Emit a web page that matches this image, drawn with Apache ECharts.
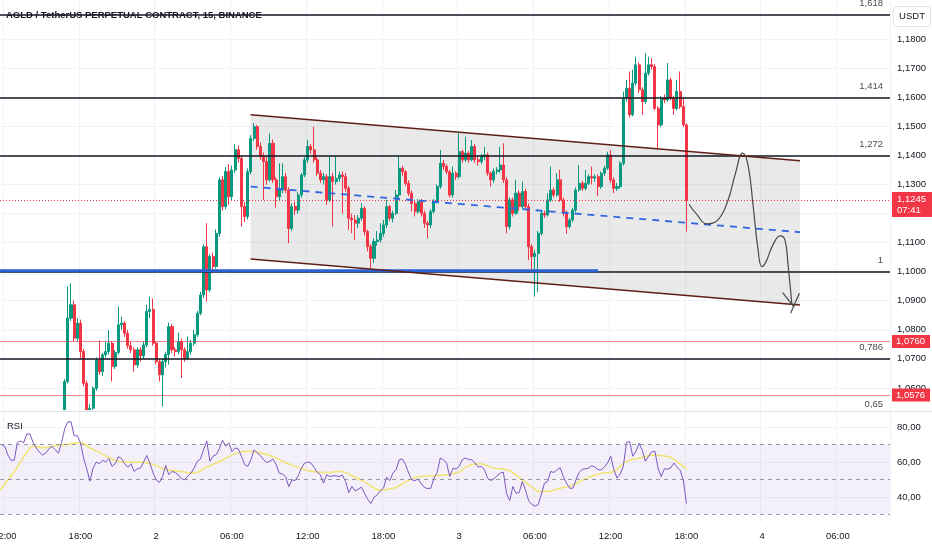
<!DOCTYPE html>
<html><head><meta charset="utf-8">
<script src="https://cdn.jsdelivr.net/npm/echarts@6.0.0/dist/echarts.min.js"></script>
<style>html,body{margin:0;padding:0;background:#fff}#c{width:932px;height:550px}</style>
</head><body><div id="c"></div>
<script>
// ---------- DATA ----------
const title = 'AGLD / TetherUS PERPETUAL CONTRACT, 15, BINANCE';
const currencyLabel = 'USDT';
const slotCount = 282;            // 15-min slots from day 1 11:45 to day 4 10:00
const startMinute = 11 * 60 + 45;
const timeTickTimes = ['00:00', '06:00', '12:00', '18:00'];

// candles: [open, close, low, high]
const ohlc = [
[1.0300,1.0320,1.0290,1.0330],[1.0320,1.0330,1.0310,1.0340],[1.0330,1.0310,1.0300,1.0340],[1.0310,1.0305,1.0295,1.0320],
[1.0305,1.0300,1.0290,1.0315],[1.0300,1.0340,1.0295,1.0350],[1.0340,1.0355,1.0335,1.0365],[1.0355,1.0350,1.0340,1.0365],
[1.0350,1.0385,1.0345,1.0395],[1.0385,1.0400,1.0380,1.0410],[1.0400,1.0390,1.0380,1.0410],[1.0390,1.0380,1.0370,1.0400],
[1.0380,1.0372,1.0360,1.0390],[1.0372,1.0368,1.0360,1.0380],[1.0368,1.0375,1.0360,1.0385],[1.0375,1.0385,1.0370,1.0395],
[1.0385,1.0392,1.0380,1.0400],[1.0392,1.0386,1.0378,1.0400],[1.0386,1.0380,1.0372,1.0395],[1.0380,1.0420,1.0375,1.0430],
[1.0525,1.0622,1.0525,1.0630],[1.0622,1.0840,1.0615,1.0949],[1.0840,1.0886,1.0830,1.0960],[1.0886,1.0771,1.0760,1.0900],
[1.0771,1.0823,1.0760,1.0840],[1.0823,1.0725,1.0700,1.0835],[1.0725,1.0616,1.0605,1.0735],[1.0616,1.0525,1.0525,1.0625],
[1.0525,1.0530,1.0525,1.0545],[1.0530,1.0599,1.0525,1.0605],[1.0599,1.0696,1.0590,1.0705],[1.0696,1.0656,1.0645,1.0763],
[1.0656,1.0714,1.0640,1.0720],[1.0714,1.0725,1.0705,1.0760],[1.0725,1.0754,1.0715,1.0799],[1.0754,1.0674,1.0622,1.0760],
[1.0674,1.0722,1.0665,1.0730],[1.0722,1.0817,1.0715,1.0880],[1.0817,1.0823,1.0800,1.0845],[1.0823,1.0788,1.0775,1.0830],
[1.0788,1.0745,1.0735,1.0800],[1.0745,1.0731,1.0720,1.0760],[1.0731,1.0679,1.0656,1.0740],[1.0679,1.0731,1.0670,1.0740],
[1.0731,1.0710,1.0690,1.0740],[1.0710,1.0748,1.0700,1.0760],[1.0748,1.0863,1.0740,1.0886],[1.0863,1.0870,1.0840,1.0914],
[1.0870,1.0754,1.0745,1.0908],[1.0754,1.0690,1.0680,1.0760],[1.0690,1.0645,1.0622,1.0700],[1.0645,1.0690,1.0536,1.0700],
[1.0690,1.0715,1.0670,1.0725],[1.0715,1.0811,1.0680,1.0825],[1.0811,1.0731,1.0720,1.0820],[1.0731,1.0725,1.0708,1.0740],
[1.0725,1.0760,1.0715,1.0790],[1.0760,1.0731,1.0634,1.0770],[1.0731,1.0702,1.0690,1.0740],[1.0702,1.0725,1.0695,1.0777],
[1.0725,1.0754,1.0715,1.0765],[1.0754,1.0783,1.0745,1.0800],[1.0783,1.0857,1.0775,1.0865],[1.0857,1.0920,1.0850,1.0930],
[1.0920,1.1086,1.0910,1.1095],[1.1086,1.0937,1.0897,1.1167],[1.0937,1.1052,1.0930,1.1060],[1.1052,1.1018,1.0995,1.1065],
[1.1018,1.1132,1.1010,1.1145],[1.1132,1.1316,1.1120,1.1325],[1.1316,1.1224,1.1210,1.1330],[1.1224,1.1345,1.1215,1.1360],
[1.1345,1.1258,1.1230,1.1370],[1.1258,1.1350,1.1245,1.1365],[1.1350,1.1420,1.1340,1.1440],[1.1420,1.1390,1.1375,1.1435],
[1.1390,1.1224,1.1155,1.1400],[1.1224,1.1190,1.1170,1.1240],[1.1190,1.1344,1.1180,1.1355],[1.1344,1.1459,1.1335,1.1470],
[1.1459,1.1499,1.1450,1.1511],[1.1499,1.1431,1.1420,1.1505],[1.1431,1.1396,1.1385,1.1445],[1.1396,1.1379,1.1247,1.1410],
[1.1379,1.1316,1.1300,1.1400],[1.1316,1.1442,1.1310,1.1476],[1.1442,1.1316,1.1305,1.1455],[1.1316,1.1258,1.1220,1.1325],
[1.1258,1.1281,1.1245,1.1373],[1.1281,1.1327,1.1270,1.1373],[1.1327,1.1281,1.1270,1.1340],[1.1281,1.1149,1.1098,1.1290],
[1.1149,1.1224,1.1140,1.1235],[1.1224,1.1212,1.1195,1.1240],[1.1212,1.1264,1.1200,1.1275],[1.1264,1.1333,1.1255,1.1340],
[1.1333,1.1385,1.1325,1.1395],[1.1385,1.1431,1.1375,1.1453],[1.1431,1.1419,1.1405,1.1440],[1.1419,1.1385,1.1375,1.1499],
[1.1385,1.1339,1.1330,1.1395],[1.1339,1.1316,1.1305,1.1350],[1.1316,1.1327,1.1300,1.1340],[1.1327,1.1247,1.1230,1.1335],
[1.1247,1.1327,1.1240,1.1396],[1.1327,1.1310,1.1155,1.1340],[1.1310,1.1321,1.1300,1.1396],[1.1321,1.1333,1.1310,1.1345],
[1.1333,1.1327,1.1200,1.1345],[1.1327,1.1287,1.1275,1.1340],[1.1287,1.1184,1.1144,1.1295],[1.1184,1.1178,1.1132,1.1200],
[1.1178,1.1167,1.1109,1.1195],[1.1167,1.1184,1.1150,1.1195],[1.1184,1.1218,1.1175,1.1235],[1.1218,1.1138,1.1125,1.1225],
[1.1138,1.1086,1.1070,1.1145],[1.1086,1.1046,1.1006,1.1095],[1.1046,1.1104,1.1030,1.1115],[1.1104,1.1109,1.1090,1.1140],
[1.1109,1.1132,1.1100,1.1167],[1.1132,1.1161,1.1120,1.1178],[1.1161,1.1224,1.1150,1.1247],[1.1224,1.1184,1.1175,1.1230],
[1.1184,1.1201,1.1170,1.1210],[1.1201,1.1264,1.1195,1.1281],[1.1264,1.1356,1.1255,1.1396],[1.1356,1.1344,1.1330,1.1365],
[1.1344,1.1304,1.1295,1.1350],[1.1304,1.1270,1.1260,1.1315],[1.1270,1.1235,1.1207,1.1280],[1.1235,1.1207,1.1190,1.1245],
[1.1207,1.1241,1.1200,1.1250],[1.1241,1.1201,1.1190,1.1250],[1.1201,1.1167,1.1150,1.1210],[1.1167,1.1161,1.1115,1.1175],
[1.1161,1.1207,1.1150,1.1215],[1.1207,1.1241,1.1200,1.1250],[1.1241,1.1293,1.1235,1.1300],[1.1293,1.1373,1.1285,1.1419],
[1.1373,1.1362,1.1350,1.1385],[1.1362,1.1344,1.1335,1.1370],[1.1344,1.1264,1.1255,1.1350],[1.1264,1.1339,1.1255,1.1362],
[1.1339,1.1327,1.1315,1.1345],[1.1327,1.1413,1.1320,1.1476],[1.1413,1.1385,1.1375,1.1420],[1.1385,1.1408,1.1378,1.1465],
[1.1408,1.1385,1.1375,1.1415],[1.1385,1.1431,1.1380,1.1453],[1.1431,1.1385,1.1375,1.1440],[1.1385,1.1379,1.1365,1.1395],
[1.1379,1.1396,1.1370,1.1405],[1.1396,1.1402,1.1385,1.1430],[1.1402,1.1339,1.1330,1.1410],[1.1339,1.1316,1.1293,1.1345],
[1.1316,1.1345,1.1305,1.1355],[1.1345,1.1350,1.1335,1.1360],[1.1350,1.1367,1.1340,1.1430],[1.1367,1.1316,1.1305,1.1442],
[1.1316,1.1155,1.1132,1.1325],[1.1155,1.1247,1.1145,1.1255],[1.1247,1.1201,1.1190,1.1255],[1.1201,1.1270,1.1195,1.1316],
[1.1270,1.1224,1.1210,1.1280],[1.1224,1.1276,1.1215,1.1310],[1.1276,1.1224,1.1215,1.1285],[1.1224,1.1086,1.1040,1.1235],
[1.1086,1.1052,1.1006,1.1095],[1.1052,1.1063,1.0914,1.1075],[1.1063,1.1132,1.0930,1.1140],[1.1132,1.1201,1.1125,1.1210],
[1.1201,1.1195,1.1185,1.1210],[1.1195,1.1247,1.1190,1.1270],[1.1247,1.1281,1.1240,1.1362],[1.1281,1.1264,1.1255,1.1290],
[1.1264,1.1316,1.1258,1.1339],[1.1316,1.1247,1.1240,1.1350],[1.1247,1.1201,1.1190,1.1255],[1.1201,1.1155,1.1130,1.1210],
[1.1155,1.1178,1.1148,1.1185],[1.1178,1.1212,1.1170,1.1220],[1.1212,1.1281,1.1205,1.1290],[1.1281,1.1304,1.1275,1.1367],
[1.1304,1.1287,1.1278,1.1312],[1.1287,1.1304,1.1280,1.1350],[1.1304,1.1327,1.1298,1.1335],[1.1327,1.1322,1.1300,1.1362],
[1.1322,1.1327,1.1310,1.1335],[1.1327,1.1293,1.1260,1.1335],[1.1293,1.1339,1.1285,1.1345],[1.1339,1.1356,1.1330,1.1365],
[1.1356,1.1402,1.1350,1.1413],[1.1402,1.1316,1.1305,1.1419],[1.1316,1.1287,1.1270,1.1325],[1.1287,1.1293,1.1278,1.1305],
[1.1293,1.1373,1.1285,1.1380],[1.1373,1.1597,1.1365,1.1620],[1.1597,1.1631,1.1585,1.1660],[1.1631,1.1540,1.1530,1.1689],
[1.1540,1.1649,1.1535,1.1695],[1.1649,1.1712,1.1640,1.1740],[1.1712,1.1626,1.1615,1.1720],[1.1626,1.1585,1.1540,1.1635],
[1.1585,1.1683,1.1578,1.1752],[1.1683,1.1712,1.1675,1.1740],[1.1712,1.1706,1.1695,1.1735],[1.1706,1.1562,1.1555,1.1715],
[1.1562,1.1505,1.1420,1.1570],[1.1505,1.1597,1.1498,1.1605],[1.1597,1.1591,1.1580,1.1610],[1.1591,1.1660,1.1585,1.1718],
[1.1660,1.1597,1.1590,1.1668],[1.1597,1.1562,1.1540,1.1605],[1.1562,1.1620,1.1555,1.1660],[1.1620,1.1568,1.1560,1.1689],
[1.1568,1.1505,1.1498,1.1600],[1.1505,1.1245,1.1138,1.1510]
];

const rsi = [70,69,64,61,61,71,72,71,76,76,71,68,65.5,64,65,67.5,69,67,65,71,
79,83,83,75,75,71,62,56,49,56.5,60,59,61,60,62,57.5,59,63,62,59,
57,59,54.6,56,56.5,60,63.7,59.4,53.7,49.8,48.3,51.7,58,52.7,54.6,54,52.7,50.5,49.8,52,
53.7,56.5,60.4,61.7,67,72,60.4,63.3,64.2,67.5,72.5,69,71,66,68,67.5,63.3,58.5,57.5,61.3,
67,65.2,63.7,61.3,59.8,60.4,61.7,58.5,53.7,53.1,51.7,45.9,49.8,49.4,52.1,56.5,59.4,60,59.4,57,
54.2,52.7,47.9,52.7,51.7,52.1,52.1,51.7,52.5,48.8,42.5,46,43.5,44.4,45.6,42.1,38.6,36.3,39.8,41.2,
43.5,45,51.4,49.4,53.7,55.6,61.3,61.7,58.5,53.7,49.8,49.4,50.2,47.5,45.4,44.8,45,50.8,54,62.3,
61.3,59.4,51.7,56.3,56,57.5,
61.3,62.3,61.3,61.3,59.4,57.1,57.5,55.6,50.8,49.4,50.4,52.1,53.7,54.2,42.1,37.9,46,42.1,42.5,48.8,
44,37.9,35.8,34.8,35.6,41.2,47.9,48.8,54.6,54,55.6,56.7,51.7,47.9,45,45,49.8,54,55.9,56.1,
56.5,57.9,57.1,55.6,55.6,57.1,59.4,63.3,55.6,50.8,53.1,57.5,71.3,71.7,63.3,66.2,70.6,66.7,60.4,63.3,
65.8,66.2,56.5,51.7,56.1,55.9,56.5,59.4,57.1,55.2,49.8,36.3];

// RSI moving average: [slot index, value]
const rsiMa = [[-0.5,44],[1.6,48.9],[3.7,53.7],[5.8,59.4],[7.9,65.2],[10.1,69],[13.2,68.1],[17.5,69.4],[20.6,70],
[24.8,71],[28,68.1],[31.2,65.2],[35.4,61.3],[39.6,59.8],[43.9,59.8],[48.1,58.5],[52.3,55.6],[56.5,54.6],[60.8,53.7],
[65,57.1],[69.2,60.4],[73.4,64.2],[77.7,66.2],[81.9,65.2],[86.1,62.9],[90.3,59.4],[94.6,56.5],[98.8,54.6],[103,54],
[107.2,54.6],[111.5,51.7],[115.7,47.9],[119.9,44],[124.1,45],[128.4,48.9],[132.6,51.7],[136.8,52.1],[141,52.7],
[145.3,54.5],[147.4,57.5],[151.6,59],[155.8,56.5],[160,55.6],[164.3,50.8],[168.5,45],[170.6,43.1],[172.7,43.1],
[177,45],[181.2,46.9],[185.4,50.8],[189.6,53.3],[193.8,54.6],[198.1,60.4],[202.3,62.3],[206.5,63.9],[210.7,63.3],
[213.9,60.4],[217,56.1]];

// price-axis tick values
const priceTicks = [1.06,1.07,1.08,1.09,1.10,1.11,1.12,1.13,1.14,1.15,1.16,1.17,1.18];
const rsiTicks = [40,60,80];
const rsiGuides = [70,50,30];
const rsiBand = [30,70];

// Fibonacci levels
const fibLevels = [1.1884,1.16,1.14,1.10,1.07,1.0505];
const fibLabels = ['1,618','1,414','1,272','1','0,786','0,65'];

// price marks
const redLevels = [1.0760,1.0576];
const lastPrice = 1.1245;
const lastTimer = '07:41';

// drawings: [slot index, price]
const blueLevel = [[-0.5,1.1003],[189,1.1003]];
const channelTop = [[78.9,1.15405],[253.0,1.13822]];
const channelBottom = [[78.9,1.1044],[253.0,1.08857]];
const channelMid = [[78.9,1.12928],[253.0,1.11359]];
const projPath = [[217.8,1.12322],[220.4,1.11954],[223.4,1.11644],[227.0,1.11782],[230.2,1.1247],[232.4,1.1333],
[234.8,1.14077],[236.5,1.13674],[238.1,1.12298],[239.7,1.1075],[240.9,1.10175],[242.2,1.10337],[244.4,1.10922],
[246.7,1.11231],[248.2,1.11094],[249.2,1.10233],[250.4,1.08857]];
const arrowArmA = [[247.5,1.0928],[251.1,1.08778]];
const arrowArmB = [[252.8,1.0926],[250.0,1.08571]];

// ---------- BUILD ----------
const categories = [];
for (let k = 0; k < slotCount; k++) {
  const m = startMinute + 15 * k;
  const d = 1 + Math.floor(m / 1440), mm = m % 1440;
  categories.push(d + ' ' + String(Math.floor(mm / 60)).padStart(2, '0') + ':' + String(mm % 60).padStart(2, '0'));
}
const isTick = (i) => timeTickTimes.indexOf(categories[i].split(' ')[1]) >= 0;
const tickText = (v) => { const p = v.split(' '); return p[1] === '00:00' ? p[0] : p[1]; };
const comma = (v, n) => v.toFixed(n).replace('.', ',');

const FONT = 'Liberation Sans, Arial, sans-serif';
const TXT = '#131722';
const GRIDC = '#f0f2f6';
const priceMin = 1.0524, priceMax = 1.1935;
const fibLabelX = 280.9;

const fibLines = fibLevels.filter(v => v > priceMin && v < priceMax).map(v => ({
  yAxis: v, lineStyle: {color: '#131722', width: 1.6, type: 'solid'}, label: {show: false}
}));
const redLines = redLevels.map(v => ({
  yAxis: v, lineStyle: {color: 'rgba(242,54,69,0.6)', width: 1, type: 'solid'},
  label: {show: true, position: 'end', distance: 2, formatter: comma(v, 4), backgroundColor: '#f23645',
    color: '#fff', padding: [2, 5, 1, 4], fontSize: 9.5, fontFamily: FONT}
}));
const lastLine = {
  yAxis: lastPrice, lineStyle: {color: '#f23645', width: 1, type: [1, 2]},
  label: {show: true, position: 'end', distance: 2, offset: [0, 4], formatter: comma(lastPrice, 4) + '\n' + lastTimer,
    backgroundColor: '#f23645', color: '#fff', padding: [2, 6, 1, 5], fontSize: 9.5, lineHeight: 11, fontFamily: FONT}
};

const chart = echarts.init(document.getElementById('c'), null, {renderer: 'canvas'});
chart.setOption({
  animation: false,
  backgroundColor: '#ffffff',
  textStyle: {fontFamily: FONT},
  grid: [
    {left: 0, right: 42, top: 0, height: 410, containLabel: false, outerBoundsMode: 'none'},
    {left: 0, right: 42, top: 412, height: 111, containLabel: false, outerBoundsMode: 'none'}
  ],
  xAxis: [
    {type: 'category', gridIndex: 0, data: categories, boundaryGap: true,
     axisLine: {show: false}, axisTick: {show: false}, axisLabel: {show: false},
     splitLine: {show: true, interval: (i) => isTick(i), lineStyle: {color: GRIDC, width: 1}}},
    {type: 'value', gridIndex: 0, min: -0.5, max: slotCount - 0.5, show: false},
    {type: 'category', gridIndex: 1, data: categories, boundaryGap: true,
     axisLine: {show: false}, axisTick: {show: false},
     axisLabel: {show: true, interval: (i) => isTick(i), formatter: tickText, color: TXT, fontSize: 9.5, margin: 8, fontFamily: FONT, hideOverlap: false},
     splitLine: {show: true, interval: (i) => isTick(i), lineStyle: {color: GRIDC, width: 1}}},
    {type: 'value', gridIndex: 1, min: -0.5, max: slotCount - 0.5, show: false}
  ],
  yAxis: [
    {type: 'value', gridIndex: 0, position: 'right', min: priceMin, max: priceMax, scale: true,
     axisLine: {show: false}, axisTick: {show: false, customValues: priceTicks},
     axisLabel: {customValues: priceTicks, formatter: (v) => comma(v, 4), color: TXT, fontSize: 9.5, margin: 7, fontFamily: FONT},
     splitLine: {show: true, lineStyle: {color: GRIDC, width: 1}}},
    {type: 'value', gridIndex: 1, position: 'right', min: 25.14, max: 88.57,
     axisLine: {show: false}, axisTick: {show: false, customValues: rsiTicks},
     axisLabel: {customValues: rsiTicks, formatter: (v) => comma(v, 2), color: TXT, fontSize: 9.5, margin: 7, fontFamily: FONT},
     splitLine: {show: true, lineStyle: {color: GRIDC, width: 1}}}
  ],
  series: [
    {type: 'custom', name: 'channelFill', xAxisIndex: 1, yAxisIndex: 0, z: 1, silent: true,
     data: channelTop.concat(channelBottom.slice().reverse()),
     renderItem: (params, api) => {
       if (params.dataIndex !== 0) return null;
       const pts = channelTop.concat(channelBottom.slice().reverse()).map(p => api.coord(p));
       return {type: 'polygon', shape: {points: pts}, style: {fill: 'rgba(120,120,120,0.16)'}};
     }},
    {type: 'candlestick', name: 'AGLD', xAxisIndex: 0, yAxisIndex: 0, data: ohlc, clip: true, z: 3,
     barWidth: '80%',
     itemStyle: {color: '#089981', color0: '#f23645', borderColor: '#089981', borderColor0: '#f23645', borderWidth: 1},
     markLine: {symbol: ['none', 'none'], silent: true, animation: false, precision: 4,
       data: fibLines.concat(redLines, [lastLine])}},
    {type: 'line', name: 'blueLevel', xAxisIndex: 1, yAxisIndex: 0, data: blueLevel, symbol: 'none', z: 5,
     lineStyle: {color: '#2a62d4', width: 3}},
    {type: 'line', name: 'channelTop', xAxisIndex: 1, yAxisIndex: 0, data: channelTop, symbol: 'none', z: 5,
     lineStyle: {color: '#5e1f17', width: 1.5}},
    {type: 'line', name: 'channelBottom', xAxisIndex: 1, yAxisIndex: 0, data: channelBottom, symbol: 'none', z: 5,
     lineStyle: {color: '#5e1f17', width: 1.5}},
    {type: 'line', name: 'channelMid', xAxisIndex: 1, yAxisIndex: 0, data: channelMid, symbol: 'none', z: 5,
     lineStyle: {color: '#2f66e0', width: 1.8, type: [7, 6]}},
    {type: 'line', name: 'projection', xAxisIndex: 1, yAxisIndex: 0, data: projPath, symbol: 'none', smooth: 0.45, z: 6,
     lineStyle: {color: '#4a4a4a', width: 1.2}},
    {type: 'line', name: 'arrowA', xAxisIndex: 1, yAxisIndex: 0, data: arrowArmA, symbol: 'none', z: 6,
     lineStyle: {color: '#4a4a4a', width: 1.2}},
    {type: 'line', name: 'arrowB', xAxisIndex: 1, yAxisIndex: 0, data: arrowArmB, symbol: 'none', z: 6,
     lineStyle: {color: '#4a4a4a', width: 1.2}},
    {type: 'scatter', name: 'fibLabels', xAxisIndex: 1, yAxisIndex: 0, clip: false, symbolSize: 0, z: 7, silent: true,
     data: fibLevels.map(v => [fibLabelX, v]),
     label: {show: true, position: 'left', offset: [0, -11], color: TXT, fontSize: 9.5, fontFamily: FONT,
       formatter: (p) => fibLabels[p.dataIndex]}},
    {type: 'line', name: 'RSI', xAxisIndex: 2, yAxisIndex: 1, data: rsi, symbol: 'none', z: 4,
     lineStyle: {color: '#7e57c2', width: 1}},
    {type: 'line', name: 'RSI MA', xAxisIndex: 3, yAxisIndex: 1, data: rsiMa, symbol: 'none', smooth: 0.5, z: 3,
     lineStyle: {color: '#f2e470', width: 1.5},
     markArea: {silent: true, itemStyle: {color: 'rgba(126,87,194,0.09)'}, data: [[{yAxis: rsiBand[0]}, {yAxis: rsiBand[1]}]]},
     markLine: {symbol: ['none', 'none'], silent: true, label: {show: false},
       lineStyle: {color: 'rgba(120,123,134,0.75)', width: 1, type: [4, 4]},
       data: rsiGuides.map(v => ({yAxis: v}))}}
  ],
  graphic: [
    {type: 'line', shape: {x1: 0, y1: 411.5, x2: 932, y2: 411.5}, style: {stroke: '#e0e3eb', lineWidth: 1}, z: 10},
    {type: 'text', left: 6, top: 10, z: 20, style: {text: title, fill: TXT, font: '600 9.5px Liberation Sans, Arial, sans-serif'}},
    {type: 'text', left: 7, top: 421, z: 20, style: {text: 'RSI', fill: TXT, font: '9.5px Liberation Sans, Arial, sans-serif'}},
    {type: 'group', left: 893, top: 6, z: 20, children: [
      {type: 'rect', shape: {x: 0, y: 0, width: 37, height: 20, r: 3}, style: {fill: '#fff', stroke: '#e0e3eb', lineWidth: 1}},
      {type: 'text', x: 18.5, y: 10, style: {text: currencyLabel, fill: TXT, font: '9.5px Liberation Sans, Arial, sans-serif', align: 'center', verticalAlign: 'middle'}}
    ]}
  ]
});
</script>
</body></html>
